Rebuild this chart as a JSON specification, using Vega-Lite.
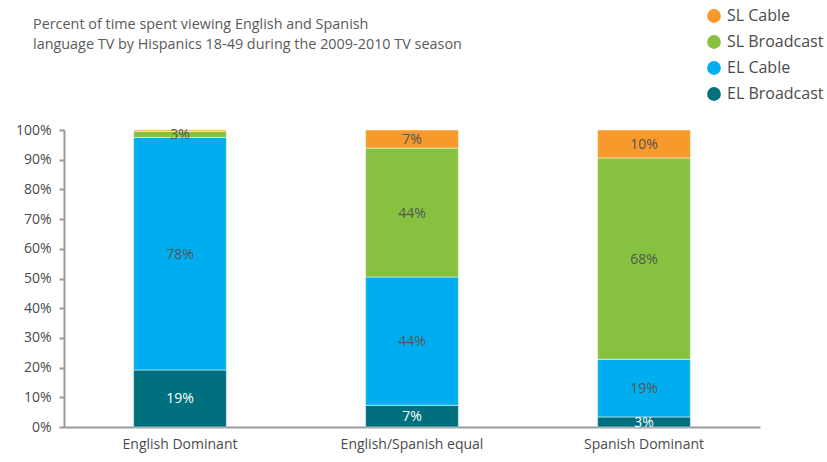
{
  "$schema": "https://vega.github.io/schema/vega-lite/v6.json",
  "width": 696,
  "height": 297,
  "autosize": "none",
  "padding": {"left": 64, "top": 130, "right": 67, "bottom": 35},
  "background": "white",
  "config": {
    "view": {"stroke": null},
    "font": "Open Sans"
  },
  "title": {
    "text": ["Percent of time spent viewing English and Spanish", "language TV by Hispanics 18-49 during the 2009-2010 TV season"],
    "anchor": "start",
    "frame": "group",
    "orient": "top",
    "fontSize": 14.4,
    "fontWeight": "normal",
    "color": "#5a5a5a",
    "font": "Open Sans",
    "lineHeight": 20,
    "dx": -31,
    "offset": 0,
    "dy": 44
  },
  "data": {
    "values": [
      {"category": "English Dominant", "series": "EL Broadcast", "value": 19.2, "label": "19%", "order": 1},
      {"category": "English Dominant", "series": "EL Cable", "value": 78.3, "label": "78%", "order": 2},
      {"category": "English Dominant", "series": "SL Broadcast", "value": 2.0, "label": "3%", "order": 3},
      {"category": "English Dominant", "series": "SL Cable", "value": 0.5, "label": "", "order": 4},
      {"category": "English/Spanish equal", "series": "EL Broadcast", "value": 7.3, "label": "7%", "order": 1},
      {"category": "English/Spanish equal", "series": "EL Cable", "value": 43.2, "label": "44%", "order": 2},
      {"category": "English/Spanish equal", "series": "SL Broadcast", "value": 43.4, "label": "44%", "order": 3},
      {"category": "English/Spanish equal", "series": "SL Cable", "value": 6.1, "label": "7%", "order": 4},
      {"category": "Spanish Dominant", "series": "EL Broadcast", "value": 3.4, "label": "3%", "order": 1},
      {"category": "Spanish Dominant", "series": "EL Cable", "value": 19.4, "label": "19%", "order": 2},
      {"category": "Spanish Dominant", "series": "SL Broadcast", "value": 67.8, "label": "68%", "order": 3},
      {"category": "Spanish Dominant", "series": "SL Cable", "value": 9.4, "label": "10%", "order": 4}
    ]
  },
  "encoding": {
    "x": {
      "field": "category",
      "type": "nominal",
      "sort": null,
      "scale": {"paddingInner": 0.6, "paddingOuter": 0.3},
      "axis": {
        "title": null,
        "labelAngle": 0,
        "labelFontSize": 14,
        "labelColor": "#4a4a4a",
        "labelPadding": 10,
        "ticks": false,
        "domainColor": "#9a9a9a",
        "domainWidth": 2,
        "labelFont": "Open Sans"
      }
    },
    "y": {
      "field": "value",
      "type": "quantitative",
      "stack": "zero",
      "scale": {"domain": [0, 100], "nice": false},
      "axis": {
        "title": null,
        "values": [0, 10, 20, 30, 40, 50, 60, 70, 80, 90, 100],
        "labelExpr": "datum.value + '%'",
        "labelFontSize": 14,
        "labelColor": "#4a4a4a",
        "labelPadding": 8,
        "grid": false,
        "tickSize": 5,
        "tickColor": "#9a9a9a",
        "tickWidth": 2,
        "domainColor": "#9a9a9a",
        "domainWidth": 2,
        "labelFont": "Open Sans"
      }
    },
    "order": {"field": "order", "type": "quantitative", "sort": "ascending"}
  },
  "layer": [
    {
      "mark": {"type": "bar", "stroke": "white", "strokeWidth": 0.5},
      "encoding": {
        "color": {
          "field": "series",
          "type": "nominal",
          "scale": {
            "domain": ["SL Cable", "SL Broadcast", "EL Cable", "EL Broadcast"],
            "range": ["#F7992B", "#86C240", "#00AEEF", "#00707F"]
          },
          "legend": {
            "title": null,
            "orient": "none",
            "legendX": 642,
            "legendY": -122,
            "symbolType": "circle",
            "symbolSize": 190,
            "symbolStrokeWidth": 0,
            "labelFontSize": 16,
            "labelColor": "#4a4a4a",
            "labelFont": "Open Sans",
            "rowPadding": 10,
            "labelOffset": 5
          }
        }
      }
    },
    {
      "mark": {"type": "text", "fontSize": 14, "font": "Open Sans", "baseline": "middle", "dy": 1},
      "encoding": {
        "y": {"field": "value", "type": "quantitative", "stack": "zero", "bandPosition": 0.5},
        "text": {"field": "label"},
        "color": {
          "condition": {"test": "datum.series === 'EL Broadcast'", "value": "white"},
          "value": "#555555"
        }
      }
    }
  ]
}
